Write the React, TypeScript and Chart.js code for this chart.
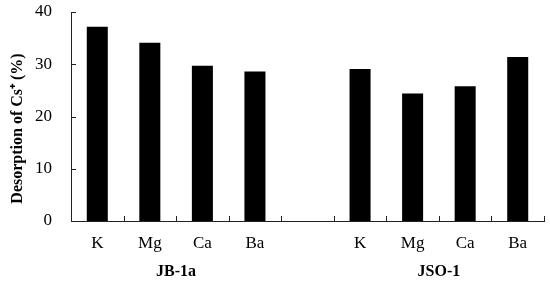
import React, { useEffect, useRef } from "react";
import { Chart, registerables } from "chart.js";

Chart.register(...registerables);

const categories = ["K", "Mg", "Ca", "Ba", "", "K", "Mg", "Ca", "Ba"];
const desorption = [37.2, 34.1, 29.7, 28.6, null, 29.1, 24.4, 25.8, 31.4];
const groups = ["JB-1a", "JSO-1"];
const groupSpans = [[0, 3], [5, 8]];
const yTicks = [0, 10, 20, 30, 40];

const FONT = "'Liberation Serif', 'Times New Roman', serif";
const AXIS = "#222";

const inwardTicks = {
  id: "inwardTicks",
  afterDraw(chart: any) {
    const { ctx, scales } = chart;
    const x = scales.x;
    const y = scales.y;
    ctx.save();
    ctx.strokeStyle = AXIS;
    ctx.lineWidth = 1;
    const len = 5;
    yTicks.forEach((v) => {
      const py = Math.round(y.getPixelForValue(v)) + 0.5;
      ctx.beginPath();
      ctx.moveTo(x.left, py);
      ctx.lineTo(x.left + len, py);
      ctx.stroke();
    });
    for (let i = 0; i <= categories.length; i++) {
      const px =
        Math.round(
          i < categories.length
            ? x.getPixelForValue(i) - (x.getPixelForValue(1) - x.getPixelForValue(0)) / 2
            : x.right
        ) + 0.5;
      ctx.beginPath();
      ctx.moveTo(px, y.bottom);
      ctx.lineTo(px, y.bottom - len);
      ctx.stroke();
    }
    ctx.fillStyle = "#000";
    ctx.font = `bold 16px ${FONT}`;
    ctx.textAlign = "center";
    ctx.textBaseline = "middle";
    groups.forEach((g, i) => {
      const [a, b] = groupSpans[i];
      const cx = (x.getPixelForValue(a) + x.getPixelForValue(b)) / 2;
      ctx.fillText(g, cx, 272);
    });
    ctx.restore();
  },
};

export default function App() {
  const ref = useRef<HTMLCanvasElement>(null);
  useEffect(() => {
    const chart = new Chart(ref.current!, {
      type: "bar",
      data: {
        labels: categories,
        datasets: [
          {
            data: desorption as any,
            backgroundColor: "#000",
            borderWidth: 0,
            categoryPercentage: 1,
            barPercentage: 0.4,
          },
        ],
      },
      options: {
        animation: false,
        responsive: false,
        maintainAspectRatio: false,
        layout: { padding: { left: 0, right: 6, top: 12, bottom: 0 } },
        plugins: { legend: { display: false }, tooltip: { enabled: false } },
        scales: {
          x: {
            grid: { display: false, drawTicks: false },
            border: { display: true, color: AXIS, width: 1 },
            ticks: {
              color: "#000",
              font: { family: FONT, size: 17 },
              padding: 12,
              maxRotation: 0,
              autoSkip: false,
            },
            afterFit(scale: any) {
              scale.height = 64;
              scale.paddingLeft = 0;
              scale.paddingRight = 0;
            },
          },
          y: {
            min: 0,
            max: 40,
            grid: { display: false, drawTicks: false },
            border: { display: true, color: AXIS, width: 1 },
            ticks: {
              stepSize: 10,
              color: "#000",
              font: { family: FONT, size: 17 },
              padding: 19,
            },
            title: {
              display: true,
              text: "Desorption of Cs\u207A (%)      ",
              color: "#000",
              font: { family: FONT, size: 16, weight: "bold" },
              padding: { top: 8, bottom: 0 },
            },
            afterFit(scale: any) {
              scale.width = 71;
              scale.paddingTop = 0;
              scale.paddingBottom = 0;
            },
          },
        },
      },
      plugins: [inwardTicks],
    });
    return () => chart.destroy();
  }, []);
  return (
    <div style={{ position: "absolute", left: 0, top: 0, width: 550, height: 285, background: "#fff" }}>
      <canvas ref={ref} width={550} height={285} style={{ width: 550, height: 285 }} />
    </div>
  );
}
